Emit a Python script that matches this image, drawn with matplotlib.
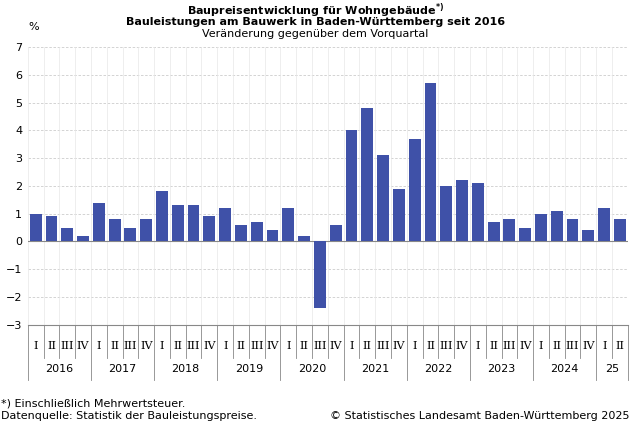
import matplotlib
matplotlib.use("Agg")
import matplotlib.pyplot as plt
from matplotlib.transforms import blended_transform_factory

years = ["2016","2017","2018","2019","2020","2021","2022","2023","2024","25"]
quarters_per_year = [4,4,4,4,4,4,4,4,4,2]
quarter_names = ["I","II","III","IV"]
values = [1.0,0.9,0.5,0.2, 1.4,0.8,0.5,0.8, 1.8,1.3,1.3,0.9, 1.2,0.6,0.7,0.4,
          1.2,0.2,-2.4,0.6, 4.0,4.8,3.1,1.9, 3.7,5.7,2.0,2.2, 2.1,0.7,0.8,0.5,
          1.0,1.1,0.8,0.4, 1.2,0.8]
yticks = list(range(-3,8))

fig = plt.figure(figsize=(6.31,4.23), dpi=100)
ax = fig.add_axes([0.044,0.232,0.951,0.657])
n = len(values)
x = list(range(n))
ax.bar(x, values, width=0.75, color="#3f51a8", zorder=3)
ax.set_xlim(-0.5, n-0.5)
ax.set_ylim(-3,7)
ax.set_yticks(yticks)
ax.set_yticklabels([str(t).replace("-","\u2212") for t in yticks], fontsize=8)
ax.tick_params(axis="y", length=0, pad=4)
ax.set_xticks([])
for t in yticks:
    ax.axhline(t, color="#cccccc", lw=0.6, ls=(0,(3,2)), zorder=1)
ax.axhline(0, color="#888888", lw=0.8, zorder=2)
for i in range(n+1):
    ax.axvline(i-0.5, color="#e8e8e8", lw=0.5, zorder=1)
for s in ax.spines.values():
    s.set_visible(False)
ax.spines["bottom"].set_visible(True)
ax.spines["bottom"].set_color("#888888")

tr = blended_transform_factory(ax.transData, ax.transAxes)
i = 0
for y, q in zip(years, quarters_per_year):
    start = i
    for k in range(q):
        ax.text(i, -0.076, quarter_names[k], transform=tr, ha="center", va="center",
                fontsize=8, family="DejaVu Serif")
        if k > 0:
            ax.plot([i-0.5,i-0.5],[0,-0.12], transform=tr, color="#888888", lw=0.6, clip_on=False)
        i += 1
    ax.plot([start-0.5,start-0.5],[0,-0.198], transform=tr, color="#888888", lw=0.6, clip_on=False)
    ax.text((start+i-1)/2, -0.158, y, transform=tr, ha="center", va="center", fontsize=8)
ax.plot([n-0.5,n-0.5],[0,-0.198], transform=tr, color="#888888", lw=0.6, clip_on=False)

fig.text(0.5, 0.975, "Baupreisentwicklung für Wohngebäude$^{\\mathregular{*)}}$", ha="center",
         va="center", fontsize=8, fontweight="bold")
fig.text(0.5, 0.947, "Bauleistungen am Bauwerk in Baden-Württemberg seit 2016", ha="center",
         va="center", fontsize=8, fontweight="bold")
fig.text(0.5, 0.919, "Veränderung gegenüber dem Vorquartal", ha="center", va="center", fontsize=8)
fig.text(0.045, 0.935, "%", ha="left", va="center", fontsize=8)
fig.text(0.002, 0.047, "*) Einschließlich Mehrwertsteuer.", ha="left", va="center", fontsize=8)
fig.text(0.002, 0.017, "Datenquelle: Statistik der Bauleistungspreise.", ha="left", va="center", fontsize=8)
fig.text(0.997, 0.017, "© Statistisches Landesamt Baden-Württemberg 2025", ha="right", va="center", fontsize=8)
fig.savefig("out.png", dpi=100)
